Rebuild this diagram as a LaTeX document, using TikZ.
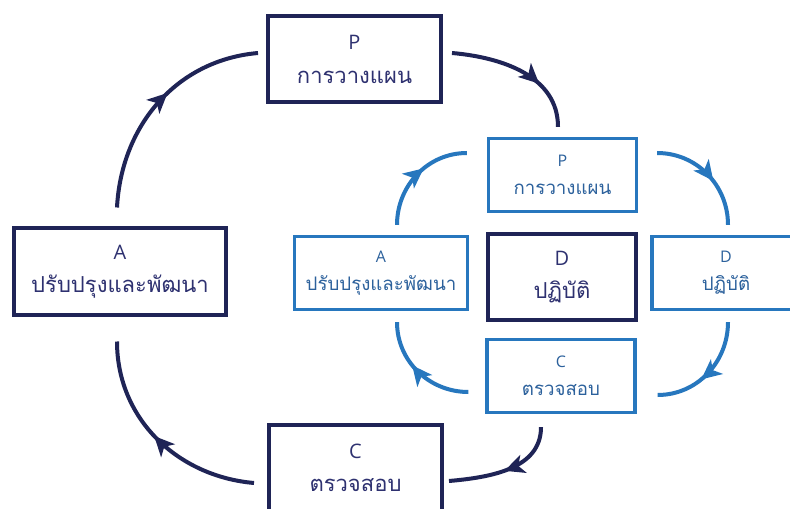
\documentclass[tikz,border=0pt]{standalone}
\usepackage{fontspec}
\setmainfont{Open Sans}
\newfontfamily\thai[Script=Thai]{Loma}
\usetikzlibrary{arrows.meta,decorations.markings,calc}
\definecolor{navy}{HTML}{1F2456}
\definecolor{blu}{HTML}{2777BE}
\definecolor{bltext}{HTML}{2C619C}
\definecolor{navtext}{HTML}{2E3170}
\newcommand\othai[1]{{\thai\fontsize{16.5}{25}\selectfont #1}}
\newcommand\ithai[1]{{\thai\fontsize{14}{21}\selectfont #1}}
\tikzset{
  box/.style={rectangle, draw, fill=white, align=center, inner sep=0pt},
  obox/.style={box, draw=navy, line width=3pt, text=navtext,
    minimum height=86*0.75pt, font=\fontsize{15}{25}\selectfont},
  ibox/.style={box, draw=blu, line width=2.5pt, text=bltext,
    minimum width=148*0.75pt, minimum height=73*0.75pt, font=\fontsize{12}{21}\selectfont},
  dbox/.style={box, draw=navy, line width=3pt, text=navtext,
    minimum width=148*0.75pt, minimum height=86*0.75pt, font=\fontsize{15}{25}\selectfont},
  mk/.style={postaction={decorate, decoration={markings,
    mark=at position #1 with {\arrow{Stealth[length=15pt,width=14pt,inset=4pt]}}}}},
  oarc/.style={draw=navy, line width=3pt, mk=#1},
  iarc/.style={draw=blu, line width=3pt, mk=#1},
}
\begin{document}
\begin{tikzpicture}[x=0.75pt,y=0.75pt]
\useasboundingbox (0,0) rectangle (790,508);
\clip (0,0) rectangle (790,508);
\fill[white] (0,0) rectangle (790,508);

% outer boxes
\node[obox, minimum width=173*0.75pt] (oP) at (354.5,448.5) {P\\\othai{การวางแผน}};
\node[obox, minimum width=212*0.75pt] (oA) at (120,236.5) {A\\\othai{ปรับปรุงและพัฒนา}};
\node[obox, minimum width=173*0.75pt] (oC) at (355.5,40.5) {C\\\othai{ตรวจสอบ}};

% inner boxes
\node[ibox] (iP) at (562.5,333) {P\\\ithai{การวางแผน}};
\node[ibox, minimum width=173*0.75pt] (iA) at (381,235) {A\\\ithai{ปรับปรุงและพัฒนา}};
\node[dbox] (iD) at (562,231) {D\\\othai{ปฏิบัติ}};
\node[ibox] (rD) at (726,235) {D\\\ithai{ปฏิบัติ}};
\node[ibox] (iC) at (561,132) {C\\\ithai{ตรวจสอบ}};

% outer cycle
\draw[oarc=0.56] ($(oA.north)+(-3,19)$) to[out=87,in=185] ($(oP.west)+(-8,6.5)$);
\draw[oarc=0.66] ($(oP.east)+(9,6.5)$) to[out=-5,in=90] ($(iP.north)+(-4.5,10)$);
\draw[oarc=0.52] ($(iC.south)+(-20,-13)$) to[out=-90,in=5] ($(oC.east)+(5,-13.5)$);
\draw[oarc=0.52] ($(oC.west)+(-13,-15.5)$) to[out=175,in=-90] ($(oA.south)+(-3,-25)$);

% inner cycle
\draw[iarc=0.58] ($(iA.north)+(16,10)$) to[out=90,in=180] ($(iP.west)+(-20,22)$);
\draw[iarc=0.58] ($(iP.east)+(19,22)$) to[out=0,in=90] ($(rD.north)+(2,10)$);
\draw[iarc=0.58] ($(rD.south)+(2,-11)$) to[out=-90,in=0] ($(iC.east)+(21,-19)$);
\draw[iarc=0.58] ($(iC.west)+(-17,-16)$) to[out=180,in=-90] ($(iA.south)+(16,-11)$);
\end{tikzpicture}
\end{document}
